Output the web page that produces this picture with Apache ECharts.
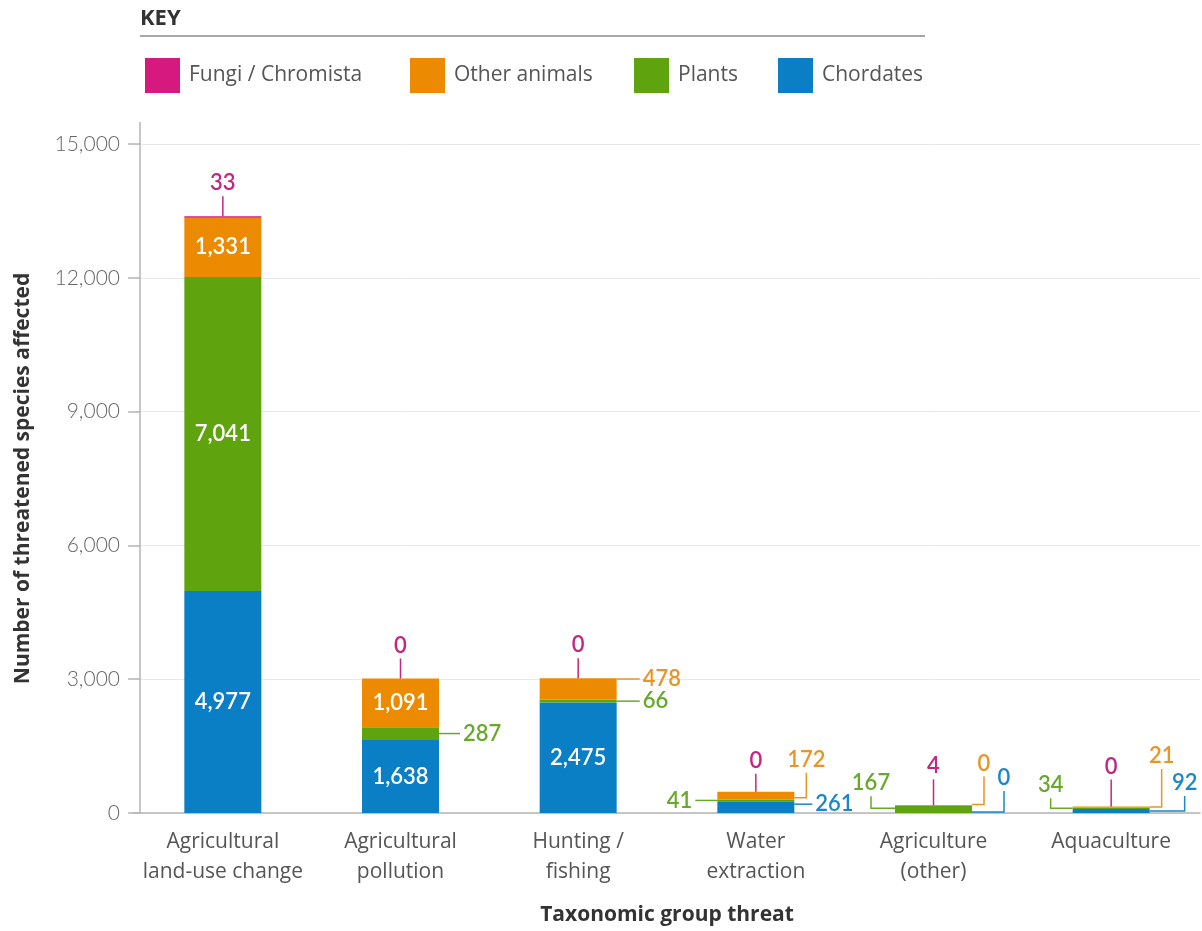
<!DOCTYPE html>
<html>
<head>
<meta charset="utf-8">
<title>Threatened species by threat</title>
<script src="https://cdn.jsdelivr.net/npm/echarts@6/dist/echarts.min.js"></script>
<style>
  html, body { margin: 0; padding: 0; background: #fff; }
  #chart { width: 1202px; height: 931px; }
</style>
</head>
<body>
<div id="chart"></div>
<script>
// ---- data ----
const categories = [
  'Agricultural\nland-use change',
  'Agricultural\npollution',
  'Hunting /\nfishing',
  'Water\nextraction',
  'Agriculture\n(other)',
  'Aquaculture'
];
const chordates    = [4977, 1638, 2475, 261, 0, 92];
const plants       = [7041, 287, 66, 41, 167, 34];
const otherAnimals = [1331, 1091, 478, 172, 0, 21];
const fungi        = [33, 0, 0, 0, 4, 0];
const yTicks = [0, 3000, 6000, 9000, 12000, 15000];

// ---- look ----
const FONT = '"Open Sans", Lato, sans-serif';
const NUM_FONT = 'Lato, "Open Sans", sans-serif';
const BAR_W = 77;
const groups = [
  { key: 'chordates', name: 'Chordates',         values: chordates,    fill: '#0b7fc5', text: '#1a87c9' },
  { key: 'plants',    name: 'Plants',            values: plants,       fill: '#5fa40f', text: '#68a82a' },
  { key: 'other',     name: 'Other animals',     values: otherAnimals, fill: '#ec8b02', text: '#e99526' },
  { key: 'fungi',     name: 'Fungi / Chromista', values: fungi,        fill: '#d6197f', text: '#c52480' }
];

// key entries, left to right, with the left edge of each swatch
const keyOrder = ['Fungi / Chromista', 'Other animals', 'Plants', 'Chordates'];
const keyLeft = [140, 405, 629, 773];

// segments labelled inside the bar (white text)
const insideLabels = {
  chordates: [0, 1, 2],
  plants: [0],
  other: [0, 1]
};

// leader-line placement for the remaining value labels (pixel offsets)
const leaders = [
  { key: 'fungi',     cat: 0, side: 'top',   dy: -20 },
  { key: 'fungi',     cat: 1, side: 'top',   dy: -20 },
  { key: 'plants',    cat: 1, side: 'right', dx: 21, dy: 0 },
  { key: 'fungi',     cat: 2, side: 'top',   dy: -20 },
  { key: 'other',     cat: 2, side: 'right', dx: 23, dy: 0, oy: -10 },
  { key: 'plants',    cat: 2, side: 'right', dx: 23, dy: 0 },
  { key: 'fungi',     cat: 3, side: 'top',   dy: -18 },
  { key: 'other',     cat: 3, side: 'right', dx: 12, dy: -25, oy: 2 },
  { key: 'plants',    cat: 3, side: 'left',  dx: -22, dy: 0 },
  { key: 'chordates', cat: 3, side: 'right', dx: 18, dy: 0, oy: -3 },
  { key: 'plants',    cat: 4, side: 'left',  dx: -24, dy: -12, oy: -1 },
  { key: 'fungi',     cat: 4, side: 'top',   dy: -26 },
  { key: 'other',     cat: 4, side: 'right', dx: 12, dy: -28, oy: -1 },
  { key: 'chordates', cat: 4, side: 'right', dx: 32, dy: -21, oy: -1 },
  { key: 'plants',    cat: 5, side: 'left',  dx: -22, dy: -10 },
  { key: 'fungi',     cat: 5, side: 'top',   dy: -27 },
  { key: 'other',     cat: 5, side: 'right', dx: 12, dy: -38 },
  { key: 'chordates', cat: 5, side: 'right', dx: 35, dy: -15 }
];

const fmt = v => v.toLocaleString('en-US');
const byKey = {};
groups.forEach((g, gi) => { byKey[g.key] = { g: g, gi: gi }; });

// stacked base of a group's segment in a category
function baseOf(gi, cat) {
  let s = 0;
  for (let k = 0; k < gi; k++) s += groups[k].values[cat];
  return s;
}

const barSeries = groups.map(g => ({
  name: g.name,
  type: 'bar',
  stack: 'total',
  barWidth: BAR_W,
  itemStyle: { color: g.fill },
  emphasis: { disabled: true },
  data: g.values.map((v, i) => ({
    value: v,
    label: {
      show: (insideLabels[g.key] || []).indexOf(i) >= 0,
      position: 'inside',
      formatter: p => fmt(p.value),
      color: '#fff',
      fontFamily: NUM_FONT,
      fontSize: 22,
      fontWeight: 600
    }
  }))
}));

const leaderData = leaders.map(l => {
  const gi = byKey[l.key].gi;
  const base = baseOf(gi, l.cat);
  return { value: [l.cat, base, base + groups[gi].values[l.cat]] };
});

const leaderSeries = {
  type: 'custom',
  silent: true,
  clip: false,
  z: 5,
  data: leaderData,
  encode: { x: 0, y: [1, 2] },
  renderItem: function (params, api) {
    const l = leaders[params.dataIndex];
    const g = byKey[l.key].g;
    const cat = api.value(0);
    const pBase = api.coord([cat, api.value(1)]);
    const pTop = api.coord([cat, api.value(2)]);
    const cx = pBase[0];
    const half = BAR_W / 2;
    const label = fmt(api.value(2) - api.value(1));
    let pts, tx, ty, align, vAlign;
    if (l.side === 'top') {
      const y0 = pTop[1];
      pts = [[cx, y0], [cx, y0 + l.dy]];
      tx = cx; ty = y0 + l.dy - 2; align = 'center'; vAlign = 'bottom';
    } else {
      const sgn = l.side === 'right' ? 1 : -1;
      const x0 = cx + sgn * half;
      const y0 = (pBase[1] + pTop[1]) / 2 + (l.oy || 0);
      const x1 = x0 + l.dx;
      pts = [[x0, y0], [x1, y0]];
      if (l.dy) {
        pts.push([x1, y0 + l.dy]);
        tx = x1; ty = y0 + l.dy - 2; align = 'center'; vAlign = 'bottom';
      } else {
        tx = x1 + sgn * 3; ty = y0; align = sgn > 0 ? 'left' : 'right'; vAlign = 'middle';
      }
    }
    return {
      type: 'group',
      children: [
        {
          type: 'polyline',
          shape: { points: pts },
          style: { stroke: g.text, lineWidth: 1.5, fill: null }
        },
        {
          type: 'text',
          x: tx, y: ty,
          style: {
            text: label,
            fill: g.text,
            font: '600 22px ' + NUM_FONT,
            align: align,
            verticalAlign: vAlign
          }
        }
      ]
    };
  }
};

const legends = keyOrder.map((name, i) => ({
  data: [name],
  left: keyLeft[i],
  top: 53,
  icon: 'rect',
  itemWidth: 35,
  itemHeight: 35,
  selectedMode: false,
  textStyle: { fontFamily: FONT, fontSize: 21, color: '#555', padding: [0, 0, 0, 4] }
}));

const chart = echarts.init(document.getElementById('chart'), null, { renderer: 'canvas' });

chart.setOption({
  backgroundColor: '#fff',
  animation: false,
  textStyle: { fontFamily: FONT },
  legend: legends,
  grid: { left: 134, right: 2, top: 144, bottom: 113 },
  xAxis: {
    type: 'category',
    data: categories,
    name: 'Taxonomic group threat',
    nameLocation: 'middle',
    nameGap: 92,
    nameTextStyle: { fontFamily: FONT, fontSize: 21, fontWeight: 'bold', color: '#333' },
    axisLine: { lineStyle: { color: '#b5b5b5', width: 1.5 } },
    axisTick: { show: false },
    axisLabel: {
      interval: 0,
      margin: 14,
      fontFamily: FONT,
      fontSize: 21,
      lineHeight: 30,
      color: '#555'
    }
  },
  yAxis: {
    type: 'value',
    min: 0,
    max: 15000,
    interval: 3000,
    offset: -6,
    name: 'Number of threatened species affected',
    nameLocation: 'middle',
    nameGap: 106,
    nameTextStyle: { fontFamily: FONT, fontSize: 21, fontWeight: 'bold', color: '#333' },
    axisLine: { show: true, lineStyle: { color: '#b5b5b5', width: 1.5 } },
    axisTick: { show: true, inside: false, length: 12, lineStyle: { color: '#b5b5b5', width: 1.5 } },
    axisLabel: {
      margin: 20,
      fontFamily: NUM_FONT,
      fontSize: 21,
      fontWeight: 300,
      color: '#666',
      formatter: v => yTicks.indexOf(v) >= 0 ? fmt(v) : ''
    },
    splitLine: { lineStyle: { color: '#e8e8e8', width: 1 } }
  },
  series: barSeries.concat([leaderSeries])
});

// header and the short extension of the value axis above its last tick
const topPx = chart.convertToPixel({ gridIndex: 0 }, [0, 15000]);
chart.setOption({
  graphic: [
    {
      type: 'text', left: 140, top: 8,
      style: { text: 'KEY', font: 'bold 22px ' + FONT, fill: '#333' }
    },
    {
      type: 'line',
      shape: { x1: 140, y1: 36, x2: 925, y2: 36 },
      style: { stroke: '#8a8a8a', lineWidth: 1.5 }
    },
    {
      type: 'line',
      shape: { x1: 140, y1: topPx[1] - 22, x2: 140, y2: topPx[1] },
      style: { stroke: '#b5b5b5', lineWidth: 1.5 }
    }
  ]
});
</script>
</body>
</html>
